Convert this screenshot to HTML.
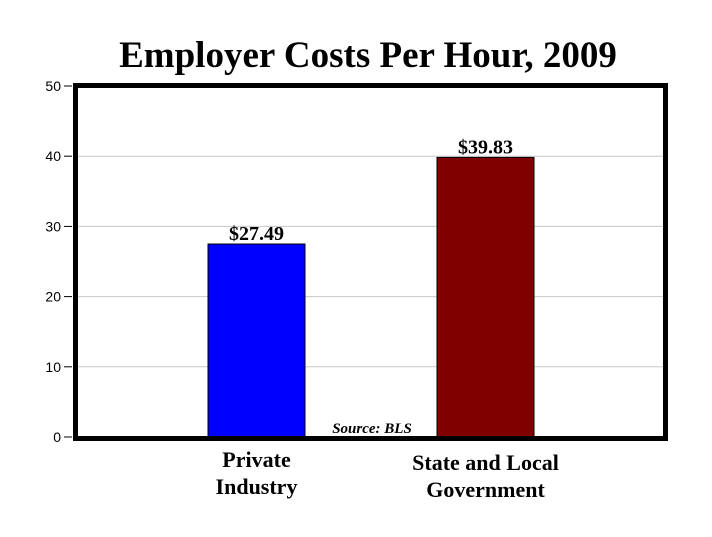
<!DOCTYPE html>
<html><head><meta charset="utf-8"><style>
html,body{margin:0;padding:0;background:#fff;}
svg{display:block;}
</style></head><body>
<svg id="chart" width="712" height="537" xmlns="http://www.w3.org/2000/svg">
<text x="368" y="67" text-anchor="middle" font-family="Liberation Serif, serif" font-weight="bold" font-size="37">Employer Costs Per Hour, 2009</text>
<g id="grid"></g>
<g id="yaxis"></g>
<g id="bars"></g>
<rect x="75.5" y="85.5" width="590" height="353" fill="none" stroke="#000" stroke-width="5"/>
<text x="372" y="433" text-anchor="middle" font-family="Liberation Serif, serif" font-weight="bold" font-style="italic" font-size="15">Source: BLS</text>
<g id="xlabels"></g>
</svg>
<script>
const categories = ["Private|Industry", "State and Local|Government"];
const values = [27.49, 39.83];
const valueLabels = ["$27.49", "$39.83"];
const colors = ["#0000ff", "#800000"];
const yTicks = [0, 10, 20, 30, 40, 50];
const NS = "http://www.w3.org/2000/svg";
const y = v => 437 - 7.02 * v;
const barCenters = [256.5, 485.5];
const x = i => barCenters[i];
const barW = 97;
const grid = document.getElementById('grid'), yaxis = document.getElementById('yaxis'), bars = document.getElementById('bars'), xl = document.getElementById('xlabels');
function mk(tag, attrs, parent){const e=document.createElementNS(NS,tag);for(const k in attrs)e.setAttribute(k,attrs[k]);parent.appendChild(e);return e;}
yTicks.forEach(t=>{
  const g = mk('line',{x1:78,x2:663,y1:y(t),y2:y(t),stroke:'#c8c8c8','stroke-width':1},grid);
  
  
  const tk = mk('line',{x1:64,x2:72,y1:y(t),y2:y(t),stroke:'#000','stroke-width':1},yaxis);
  
  
  const lb = mk('text',{x:61,y:y(t)+5,'text-anchor':'end','font-family':'Liberation Sans, sans-serif','font-size':14},yaxis);
  lb.textContent = t;
  
  
});
values.forEach((v,i)=>{
  const r = mk('rect',{x:x(i)-barW/2,y:y(v),width:barW,height:y(0)-y(v),fill:colors[i],stroke:'#000','stroke-width':1},bars);
  
  
  const vl = mk('text',{x:x(i),y:y(v)-4,'text-anchor':'middle','font-family':'Liberation Serif, serif','font-weight':'bold','font-size':20},bars);
  vl.textContent = valueLabels[i];
  
  
  const lines = categories[i].split('|');
  const offs = i===0 ? [467,494] : [470,497];
  lines.forEach((ln,j)=>{
    const c = mk('text',{x:x(i),y:offs[j],'text-anchor':'middle','font-family':'Liberation Serif, serif','font-weight':'bold','font-size':22},xl);
    c.textContent = ln;
    
    
  });
});
</script>
</body></html>
